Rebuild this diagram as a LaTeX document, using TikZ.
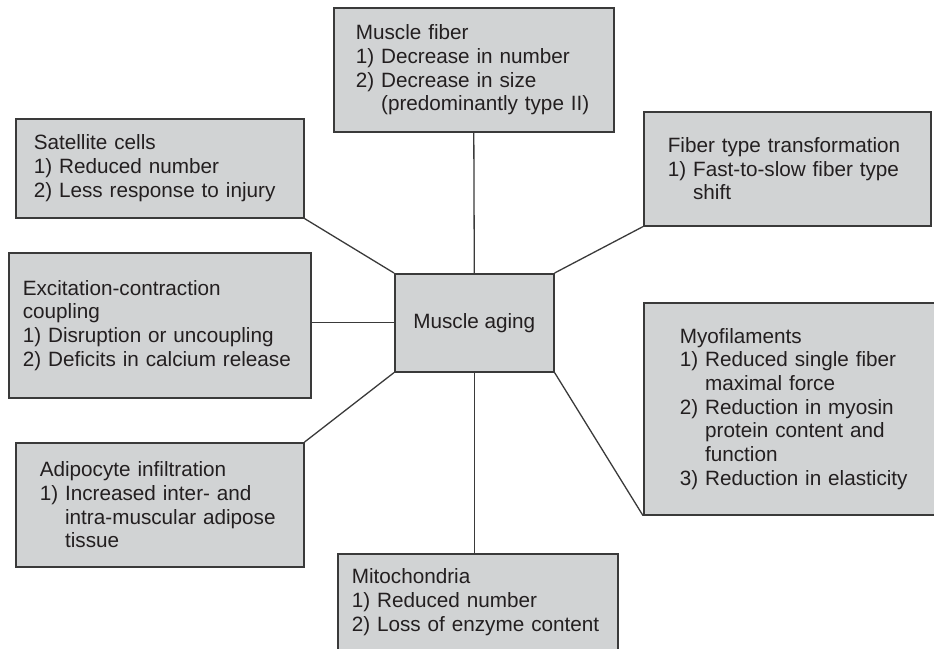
\documentclass[tikz,border=0pt]{standalone}
\usepackage{fontspec}
\setmainfont{Liberation Sans}
\usetikzlibrary{positioning}

\definecolor{boxgray}{HTML}{D1D3D4}
\definecolor{edgegray}{HTML}{3A3A3A}
\definecolor{textgray}{HTML}{231F20}
\newcommand{\hangsp}{\hphantom{1) }}

\begin{document}
\begin{tikzpicture}[x=1pt, y=-1pt,
  box/.style={rectangle, draw=edgegray, fill=boxgray, line width=1.6pt, anchor=north west, align=left, text=textgray, font=\fontsize{20.7}{23.7}\selectfont, inner ysep=0pt},
  link/.style={draw=edgegray, line width=1.3pt}]
\clip (0,0) rectangle (934,648);

\node[box, inner xsep=22pt, text width=236pt, minimum height=124pt] (fiber) at (333,7) {Muscle fiber\\1) Decrease in number\\2) Decrease in size\\\hangsp(predominantly type II)};
\node[box, inner xsep=18pt, text width=252pt, minimum height=99pt] (satellite) at (15,118) {Satellite cells\\1) Reduced number\\2) Less response to injury};
\node[box, inner xsep=14pt, text width=274pt, minimum height=145pt] (excitation) at (8,252) {Excitation-contraction\\coupling\\1) Disruption or uncoupling\\2) Deficits in calcium release};
\node[box, minimum width=159pt, minimum height=98pt] (aging) at (394,273) {Muscle aging};
\node[box, inner xsep=24pt, text width=239pt, minimum height=114pt] (transform) at (643,111) {Fiber type transformation\\1) Fast-to-slow fiber type\\\hangsp shift};
\node[box, inner xsep=36pt, text width=240pt, minimum height=212pt] (myofil) at (643,302) {Myofilaments\\1) Reduced single fiber\\\hangsp maximal force\\2) Reduction in myosin\\\hangsp protein content and\\\hangsp function\\3) Reduction in elasticity};
\node[box, inner xsep=24pt, text width=240pt, minimum height=124pt] (adipocyte) at (15,442) {Adipocyte infiltration\\1) Increased inter- and\\\hangsp intra-muscular adipose\\\hangsp tissue};
\node[box, inner xsep=14pt, text width=252pt, minimum height=97pt] (mito) at (337,553) {Mitochondria\\1) Reduced number\\2) Loss of enzyme content};

\draw[link] (fiber.south) -- (aging.north);
\draw[link] (aging.south) -- (aging.south |- mito.north);
\draw[link] (satellite.south east) -- (aging.north west);
\draw[link] (aging.west) -- (aging.west -| excitation.east);
\draw[link] (adipocyte.north east) -- (aging.south west);
\draw[link] (transform.south west) -- (aging.north east);
\draw[link] (aging.south east) -- (myofil.south west);

\end{tikzpicture}
\end{document}
